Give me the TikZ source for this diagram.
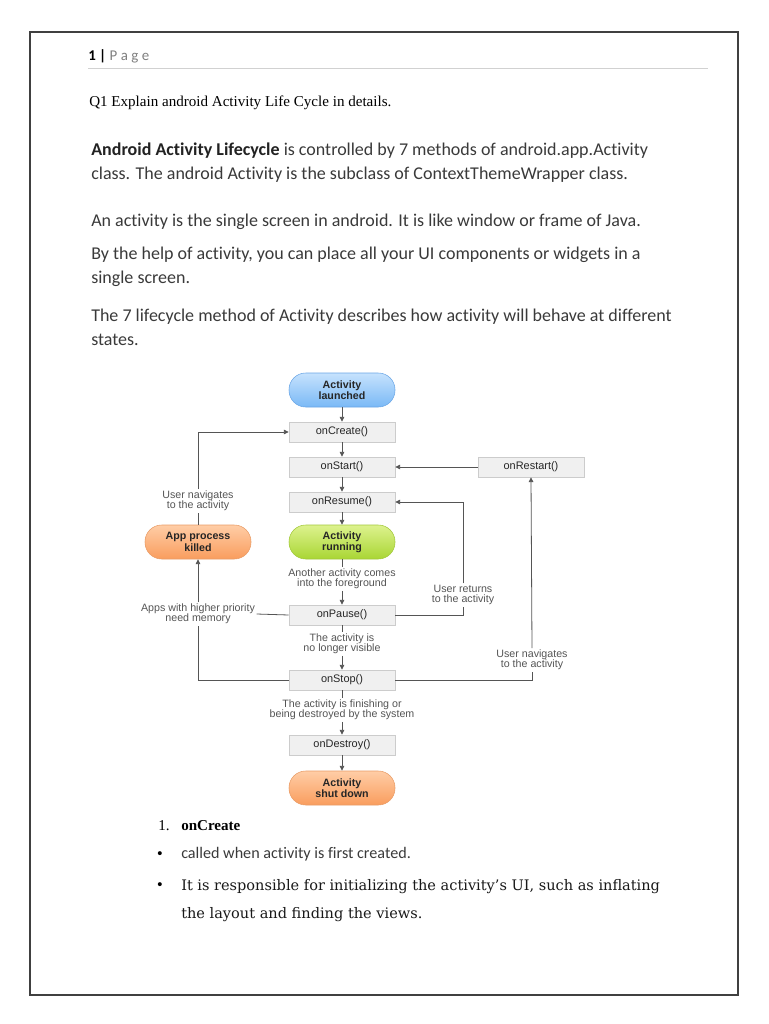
\documentclass[tikz,border=0pt]{standalone}
\usepackage{fontspec}
\setmainfont{Liberation Serif}
\newfontfamily\calfont[Ligatures=NoCommon]{Carlito}
\newfontfamily\arialfont{Liberation Sans}
\newfontfamily\geofont{DejaVu Serif}
\usetikzlibrary{arrows.meta}
\definecolor{bodytxt}{HTML}{3A3A3A}
\definecolor{boldtxt}{HTML}{222222}
\definecolor{linec}{HTML}{555555}
\definecolor{boxfill}{HTML}{F0F0F0}
\definecolor{boxdraw}{HTML}{CCCCCC}
\definecolor{bluedraw}{HTML}{6AA6E6}
\definecolor{bluetop}{HTML}{C6E2FD}
\definecolor{bluebot}{HTML}{7AB9F6}
\definecolor{greendraw}{HTML}{A2C83A}
\definecolor{greentop}{HTML}{DDF28E}
\definecolor{greenbot}{HTML}{A9D634}
\definecolor{orangedraw}{HTML}{E99C66}
\definecolor{orangetop}{HTML}{FFCDA6}
\definecolor{orangebot}{HTML}{F99D5E}
\tikzset{
  bodyline/.style={anchor=base west, inner sep=0pt, text=bodytxt, font=\calfont\fontsize{13.5}{18}\selectfont},
  methodbox/.style={draw=boxdraw, fill=boxfill, minimum width=79.5pt, minimum height=15pt, inner sep=0pt, font=\arialfont\fontsize{8.2}{9}\selectfont, text=black!85},
  pill/.style={rounded corners=12.5pt, minimum width=79.5pt, minimum height=25.5pt, inner sep=0pt, align=center, font=\arialfont\bfseries\fontsize{8}{8.6}\selectfont, text=black!85},
  bluepill/.style={pill, draw=bluedraw, top color=bluetop, bottom color=bluebot},
  greenpill/.style={pill, draw=greendraw, top color=greentop, bottom color=greenbot},
  orangepill/.style={pill, draw=orangedraw, top color=orangetop, bottom color=orangebot},
  lbl/.style={fill=white, inner sep=1pt, align=center, text=linec, font=\arialfont\fontsize{8}{7.8}\selectfont},
  conn/.style={draw=linec, line width=0.6pt},
  arr/.style={conn, -{Triangle[length=3.6pt,width=3.4pt]}},
  bulletmark/.style={anchor=base west, inner sep=0pt, font=\arialfont\fontsize{11}{14}\selectfont},
}
\begin{document}
\begin{tikzpicture}[x=0.75pt,y=-0.75pt]
\useasboundingbox (0,0) rectangle (768,1024);
\fill[white] (0,0) rectangle (768,1024);
% page frame
\draw[black!75, line width=0.8pt] (30,32) rectangle (738,995);
% header
\node[anchor=base west, inner sep=0pt, font=\calfont\fontsize{11.2}{12}\selectfont] (hdr) at (88,61)
  {\textbf{1} \textbf{|} \textcolor{black!50}{P\kern2.6pt a\kern2.6pt g\kern2.6pt e}};
\draw[black!18, line width=0.6pt] (88,68) -- (708,68);
% question
\node[anchor=base west, inner sep=0pt, font=\fontsize{11.3}{14}\selectfont, text=black] (q1) at (89,107)
  {Q1 Explain android Activity Life Cycle in details.};
% paragraphs
\node[bodyline] (p1a) at (91,155) {\textcolor{boldtxt}{\bfseries Android Activity Lifecycle} is controlled by 7 methods of android.app.Activity};
\node[bodyline] (p1b) at (91,179) {class. The android Activity is the subclass of ContextThemeWrapper class.};
\node[bodyline] (p2) at (91,226) {An activity is the single screen in android. It is like window or frame of Java.};
\node[bodyline] (p3a) at (91,259) {By the help of activity, you can place all your UI components or widgets in a};
\node[bodyline] (p3b) at (91,283) {single screen.};
\node[bodyline] (p4a) at (91,321) {The 7 lifecycle method of Activity describes how activity will behave at different};
\node[bodyline] (p4b) at (91,345) {states.};

% ---------- diagram ----------
\node[bluepill] (launched) at (342,390) {Activity\\launched};
\node[methodbox] (create) at (342,432) {onCreate()};
\node[methodbox] (start) at (342,467) {onStart()};
\node[methodbox] (restart) at (531,467) {onRestart()};
\node[methodbox] (resume) at (342,502) {onResume()};
\node[greenpill] (running) at (342,542) {Activity\\running};
\node[orangepill] (killed) at (198,542) {App process\\killed};
\node[lbl] (lfg) at (342,579) {Another activity comes\\into the foreground};
\node[methodbox] (pause) at (342,615) {onPause()};
\node[lbl] (lvis) at (342,644) {The activity is\\no longer visible};
\node[methodbox] (stop) at (342,680) {onStop()};
\node[lbl] (lfin) at (342,710) {The activity is finishing or\\being destroyed by the system};
\node[methodbox] (destroy) at (342,745) {onDestroy()};
\node[orangepill] (shut) at (342,788) {Activity\\shut down};
\node[lbl] (lnav) at (198,501) {User navigates\\to the activity};
\node[lbl] (lmem) at (198,614) {Apps with higher priority\\need memory};
\node[lbl] (lret) at (463,595) {User returns\\to the activity};
\node[lbl] (lnav2) at (532,660) {User navigates\\to the activity};

% main chain
\draw[arr] (launched) -- (create);
\draw[arr] (create) -- (start);
\draw[arr] (start) -- (resume);
\draw[arr] (resume) -- (running);
\draw[conn] (running) -- (lfg);
\draw[arr] (lfg) -- (pause);
\draw[conn] (pause) -- (lvis);
\draw[arr] (lvis) -- (stop);
\draw[conn] (stop) -- (lfin);
\draw[arr] (lfin) -- (destroy);
\draw[arr] (destroy) -- (shut);
% restart
\draw[arr] (restart) -- (start);
% left loop
\draw[conn] (killed) -- (lnav);
\draw[arr] (lnav.north) |- (create.west);
\draw[conn] (pause.west) -- (lmem.east);
\draw[conn] (stop.west) -| (lmem.south);
\draw[arr] (lmem.north) -- (killed.south);
% right loops
\draw[conn] (pause.east) -| (lret.south);
\draw[arr] (lret.north) |- (resume.east);
\draw[conn] (stop.east) -| (lnav2.south);
\draw[arr] (lnav2.north) -- (restart.south);

% ---------- list ----------
\node[anchor=base west, inner sep=0pt, font=\fontsize{11.3}{14}\selectfont] (n1) at (158,830) {1.};
\node[anchor=base west, inner sep=0pt, font=\bfseries\fontsize{11.3}{14}\selectfont] (oc) at (181,830) {onCreate};
\node[bulletmark] (b1) at (157,858) {•};
\node[anchor=base west, inner sep=0pt, text=bodytxt, font=\calfont\fontsize{12.1}{14}\selectfont] (t1) at (181,858) {called when activity is first created.};
\node[bulletmark] (b2) at (157,889) {•};
\node[anchor=base west, inner sep=0pt, text=black!90, font=\geofont\fontsize{10.9}{20}\selectfont] (t2a) at (181,890) {It is responsible for initializing the activity’s UI, such as inflating};
\node[anchor=base west, inner sep=0pt, text=black!90, font=\geofont\fontsize{10.9}{20}\selectfont] (t2b) at (181,918) {the layout and finding the views.};
\end{tikzpicture}
\end{document}
